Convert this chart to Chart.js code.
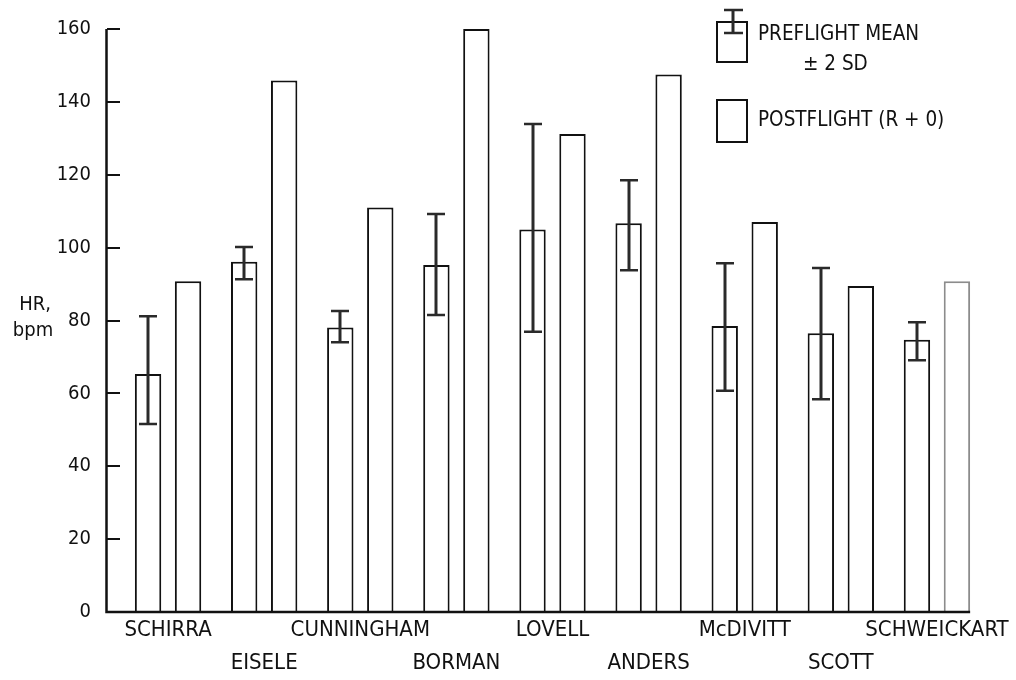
<!DOCTYPE html>
<html>
<head>
<meta charset="utf-8">
<title>Heart rate, preflight vs postflight</title>
<script src="https://cdn.jsdelivr.net/npm/chart.js@4/dist/chart.umd.min.js"></script>
<style>
    html, body { margin: 0; padding: 0; background: #fff; }
</style>
</head>
<body>
<canvas id="hrChart" width="1016" height="680"></canvas>
<script>
// Chart data
const astronauts = ['SCHIRRA', 'EISELE', 'CUNNINGHAM', 'BORMAN', 'LOVELL', 'ANDERS', 'McDIVITT', 'SCOTT', 'SCHWEICKART'];
const preflightMean = [65.3, 96.1, 78.1, 95.2, 105.0, 106.7, 78.5, 76.5, 74.7];
const preflightHigh = [81.2, 100.2, 82.6, 109.2, 133.9, 118.5, 95.7, 94.4, 79.5];
const preflightLow = [51.6, 91.3, 74.0, 81.5, 76.9, 93.8, 60.7, 58.4, 69.1];
const postflight = [90.8, 145.9, 111.0, 160.0, 131.2, 147.5, 107.0, 89.5, 90.8];
const yTicks = [0, 20, 40, 60, 80, 100, 120, 140, 160];
const yTitleLines = ['HR,', 'bpm'];
const preLegendLines = ['PREFLIGHT MEAN', '\u00B1 2 SD'];
const postLegendLabel = 'POSTFLIGHT (R + 0)';

const fontFamily = "'Liberation Sans Narrow', 'DejaVu Sans Condensed', 'Liberation Sans', sans-serif";
const ink = '#111';

// Draws the error bars, the axis lines, the legend and the y title
const figureExtras = {
    id: 'figureExtras',
    afterDatasetsDraw(chart) {
        const ctx = chart.ctx;
        const y = chart.scales.y;
        const preMeta = chart.getDatasetMeta(0);
        const postMeta = chart.getDatasetMeta(1);

        ctx.save();
        ctx.strokeStyle = '#2a2a2a';
        preMeta.data.forEach((bar, i) => {
            const x = Math.round(bar.x);
            const yHi = y.getPixelForValue(preflightHigh[i]);
            const yLo = y.getPixelForValue(preflightLow[i]);
            ctx.lineWidth = 3;
            ctx.beginPath();
            ctx.moveTo(x, yHi);
            ctx.lineTo(x, yLo);
            ctx.stroke();
            ctx.lineWidth = 2.5;
            ctx.beginPath();
            ctx.moveTo(x - 9, yHi);
            ctx.lineTo(x + 9, yHi);
            ctx.moveTo(x - 9, yLo);
            ctx.lineTo(x + 9, yLo);
            ctx.stroke();
        });

        // axis lines, the y axis sits at the outer end of its tick marks
        const axisX = y.right - y.options.grid.tickLength - 0.5;
        const top = y.getPixelForValue(yTicks[yTicks.length - 1]);
        const bottom = y.getPixelForValue(0);
        const lastPost = postMeta.data[postMeta.data.length - 1];
        ctx.strokeStyle = ink;
        ctx.lineWidth = 2.5;
        ctx.beginPath();
        ctx.moveTo(axisX, top);
        ctx.lineTo(axisX, bottom);
        ctx.lineTo(lastPost.x + lastPost.width / 2, bottom);
        ctx.stroke();
        ctx.restore();
    },
    afterDraw(chart) {
        const ctx = chart.ctx;
        ctx.save();
        ctx.fillStyle = ink;
        ctx.strokeStyle = ink;

        // y axis title, horizontal, two lines
        ctx.font = '20px ' + fontFamily;
        ctx.textAlign = 'center';
        ctx.textBaseline = 'alphabetic';
        ctx.fillText(yTitleLines[0], 35, 310);
        ctx.fillText(yTitleLines[1], 33, 336);

        // legend: preflight box with error bar
        ctx.lineWidth = 2;
        ctx.strokeRect(717, 22, 30, 40);
        ctx.strokeStyle = '#2a2a2a';
        ctx.lineWidth = 3;
        ctx.beginPath();
        ctx.moveTo(733, 10);
        ctx.lineTo(733, 33);
        ctx.stroke();
        ctx.lineWidth = 2.5;
        ctx.beginPath();
        ctx.moveTo(724, 10);
        ctx.lineTo(743, 10);
        ctx.moveTo(724, 33);
        ctx.lineTo(743, 33);
        ctx.stroke();

        ctx.strokeStyle = ink;
        ctx.lineWidth = 2;
        ctx.strokeRect(717, 100, 30, 42);

        ctx.font = '20.5px ' + fontFamily;
        ctx.textAlign = 'left';
        ctx.fillText(preLegendLines[0], 758, 40);
        ctx.fillText(preLegendLines[1], 803, 70);
        ctx.fillText(postLegendLabel, 758, 126);
        ctx.restore();
    }
};

const ctx = document.getElementById('hrChart');
new Chart(ctx, {
    type: 'bar',
    data: {
        labels: astronauts,
        datasets: [{
            label: preLegendLines.join(' '),
            data: preflightMean,
            backgroundColor: '#fff',
            borderColor: ink,
            borderWidth: 2
        }, {
            label: postLegendLabel,
            data: postflight,
            backgroundColor: '#fff',
            borderColor: astronauts.map((a, i) => i === astronauts.length - 1 ? '#8c8c8c' : ink),
            borderWidth: 2
        }]
    },
    options: {
        responsive: false,
        animation: false,
        devicePixelRatio: 1,
        categoryPercentage: 0.832,
        barPercentage: 0.66,
        layout: {
            padding: { top: 29, right: 31, bottom: 0, left: 0 }
        },
        plugins: {
            legend: { display: false },
            tooltip: { enabled: false }
        },
        scales: {
            x: {
                grid: { display: false, drawTicks: false },
                border: { display: false },
                ticks: {
                    autoSkip: false,
                    maxRotation: 0,
                    minRotation: 0,
                    padding: 2,
                    color: ink,
                    font: { family: fontFamily, size: 22, lineHeight: 1.5 },
                    callback: function (value, index) {
                        const name = this.getLabelForValue(value);
                        return index % 2 === 0 ? [name, ''] : ['', name];
                    }
                },
                afterFit: function (scale) {
                    scale.height = 68;
                }
            },
            y: {
                min: 0,
                max: 160,
                afterBuildTicks: function (scale) {
                    scale.ticks = yTicks.map(v => ({ value: v }));
                },
                grid: {
                    drawOnChartArea: false,
                    drawTicks: true,
                    tickLength: 13,
                    color: ink,
                    lineWidth: 2
                },
                border: { display: false },
                ticks: {
                    padding: 16,
                    color: ink,
                    font: { family: fontFamily, size: 20 }
                },
                afterFit: function (scale) {
                    scale.width = 120;
                }
            }
        }
    },
    plugins: [figureExtras]
});
</script>
</body>
</html>
